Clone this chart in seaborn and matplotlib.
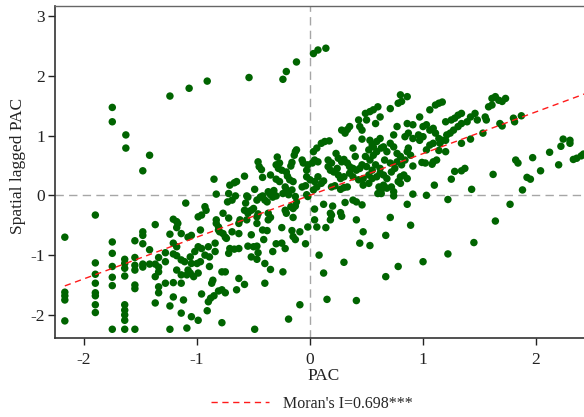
import matplotlib
matplotlib.use("Agg")
import matplotlib.pyplot as plt
import numpy as np
import pandas as pd
import seaborn as sns

# Moran scatter: standardized PAC vs. its spatial lag
moran_i = 0.698
x_ticks = [-2, -1, 0, 1, 2]
y_ticks = [-2, -1, 0, 1, 2, 3]
x_label = "PAC"
y_label = "Spatial lagged PAC"
legend_label = "Moran's I=0.698***"

# (PAC, spatial lag) pairs, grouped by region of the plot
upper_left = [
    (-1.75, 1.47), (-1.75, 1.23), (-1.63, 1.01), (-1.63, 0.79), (-1.48, 0.41),
    (-1.42, 0.67), (-1.24, 1.66), (-1.07, 1.79), (-0.91, 1.91), (-0.54, 1.97),
    (-0.24, 1.94), (-0.21, 2.07), (-0.12, 2.23), (0.03, 2.37), (0.07, 2.43),
    (0.14, 2.46),
]

west = [
    (-2.17, -0.70), (-2.17, -1.62), (-2.17, -1.68), (-2.17, -1.75), (-2.17, -2.10),
    (-1.90, -0.33), (-1.90, -1.13), (-1.90, -1.32), (-1.90, -1.47), (-1.90, -1.63),
    (-1.90, -1.68), (-1.90, -1.83), (-1.90, -1.96),
    (-1.75, -0.78), (-1.75, -0.97), (-1.75, -1.19), (-1.75, -1.37), (-1.75, -1.51),
    (-1.75, -2.24),
    (-1.64, -1.07), (-1.64, -1.14), (-1.64, -1.22), (-1.64, -1.35), (-1.64, -1.83),
    (-1.64, -1.92), (-1.64, -2.00), (-1.64, -2.09), (-1.64, -2.24),
    (-1.55, -0.76), (-1.55, -1.04), (-1.55, -1.17), (-1.55, -1.25), (-1.55, -1.50),
    (-1.55, -1.56), (-1.55, -2.24),
    (-1.48, -0.61), (-1.48, -0.67), (-1.48, -0.81), (-1.48, -1.15), (-1.48, -1.20),
    (-1.42, -0.91), (-1.42, -1.15),
    (-1.37, -0.49), (-1.37, -1.15), (-1.37, -1.36), (-1.37, -1.80),
    (-1.34, -1.04), (-1.34, -1.20), (-1.34, -1.28), (-1.34, -1.53), (-1.34, -1.63),
    (-1.28, -0.96), (-1.28, -1.11), (-1.28, -1.47),
    (-1.24, -0.65), (-1.24, -1.85), (-1.24, -2.24),
    (-1.21, -0.40), (-1.21, -0.80), (-1.21, -0.98), (-1.21, -1.70), (-1.21, -1.46),
    (-1.18, -0.44), (-1.18, -0.54), (-1.18, -0.86), (-1.18, -1.01), (-1.18, -1.25),
    (-1.14, -0.64), (-1.14, -1.08), (-1.14, -1.47), (-1.14, -1.97), (-1.14, -1.33),
    (-1.10, -0.13), (-1.17, -0.47), (-1.12, -1.75),
]

center_west = [
    (-1.08, -0.70), (-1.05, -0.67), (-0.99, -0.36), (-0.96, -0.33), (-0.93, -0.19),
    (-0.92, -0.25), (-0.97, -0.58), (-0.99, -0.86), (-0.96, -0.89), (-1.02, -0.94),
    (-1.06, -1.03), (-1.11, -1.11), (-1.05, -1.14), (-1.00, -1.14), (-0.97, -1.11),
    (-1.08, -1.25), (-1.06, -1.30), (-1.09, -1.33), (-1.03, -1.36), (-0.99, -1.30),
    (-0.93, -1.00), (-0.89, -1.03), (-0.90, -0.86), (-0.89, -1.19), (-0.84, -0.80),
    (-0.84, -0.94), (-0.86, -1.42), (-0.87, -1.47), (-0.78, -1.28), (-0.75, -1.28),
    (-0.96, -1.65), (-0.90, -1.78), (-0.88, -1.72), (-0.85, -1.68), (-0.81, -1.60),
    (-0.91, -1.93), (-0.78, -1.58), (-0.75, -1.63), (-1.05, -2.03), (-0.99, -2.09),
    (-1.09, -2.22), (-0.78, -2.13), (-0.49, -2.24), (-0.19, -2.07), (-0.09, -1.83),
    (-0.65, -1.58), (-0.63, -1.39), (-0.58, -1.49), (-0.40, -1.47), (-0.40, -1.14),
    (-0.35, -1.24), (-0.24, -1.28), (-0.52, -1.03), (-0.47, -1.07), (-0.46, -0.96),
    (-0.55, -0.85), (-0.50, -0.86), (-0.71, -0.89), (-0.67, -0.90), (-0.63, -0.89),
    (-0.72, -0.97), (-0.33, -0.94), (-0.30, -0.81), (-0.25, -0.80), (-0.22, -0.89),
    (-0.42, -0.58), (-0.38, -0.59), (-0.25, -0.54), (-0.16, -0.59), (-0.15, -0.69),
    (-0.13, -0.74), (-0.52, -0.66), (-0.47, -0.47), (-0.56, -0.41), (-0.58, -0.25),
    (-0.55, -0.27), (-0.63, -0.64), (-0.69, -0.61), (-0.77, -0.64), (-0.75, -0.70),
    (-0.74, -0.72), (-0.81, -0.58), (-0.80, -0.61), (-0.83, -0.41), (-0.83, -0.47),
    (-0.81, -0.53), (-0.77, -0.30), (-0.72, -0.38), (-0.73, -0.11), (-0.69, -0.08),
    (-0.72, 0.03), (-0.66, -0.01), (-0.71, 0.17), (-0.67, 0.21), (-0.65, 0.23),
    (-0.85, 0.27), (-0.83, 0.02), (-0.58, 0.32), (-0.56, -0.01), (-0.55, -0.03),
    (-0.49, 0.10), (-0.57, -0.13), (-0.55, -0.30), (-0.52, -0.25), (-0.50, -0.22),
    (-0.47, -0.36), (-0.46, -0.31), (-0.47, -0.08), (-0.44, -0.03), (-0.42, -0.01),
    (-0.40, -0.08), (-0.38, -0.11), (-0.46, 0.56), (-0.45, 0.48), (-0.43, 0.43),
    (-0.42, 0.30), (-0.35, 0.34), (-0.29, 0.64), (-0.30, 0.51), (-0.28, 0.45),
    (-0.25, 0.42), (-0.27, 0.54), (-0.30, 0.27), (-0.27, 0.23), (-0.21, 0.39),
    (-0.20, 0.32), (-0.17, 0.49), (-0.16, 0.55), (-0.14, 0.67), (-0.13, 0.73),
    (-0.12, 0.76), (-0.18, 0.26), (-0.15, 0.23), (-0.22, 0.14), (-0.21, 0.09),
    (-0.24, 0.03), (-0.19, 0.01), (-0.16, 0.09), (-0.32, 0.08), (-0.30, -0.01),
    (-0.33, -0.03), (-0.37, 0.06), (-0.35, 0.01), (-0.13, -0.02), (-0.12, -0.11),
    (-0.17, -0.19), (-0.15, -0.22), (-0.13, -0.18), (-0.15, -0.37), (-0.22, -0.25),
    (-0.21, -0.30), (-0.37, -0.30), (-0.35, -0.37), (-0.37, -0.41), (-0.62, -0.41),
    (-0.63, -0.47), (-0.47, -0.85), (-0.41, -0.74),
]

center_east = [
    (0.15, -1.74), (0.41, -1.76), (0.12, -1.30), (0.08, -1.00), (0.30, -1.12),
    (0.67, -1.36), (0.78, -1.19), (-0.04, -0.81), (0.44, -0.80), (0.53, -0.84),
    (0.47, -0.61), (0.67, -0.67), (0.71, -0.37), (0.41, -0.41), (-0.09, -0.61),
    (-0.02, -0.53), (0.04, -0.41), (0.06, -0.53), (0.14, -0.54), (0.18, -0.41),
    (0.19, -0.33), (0.18, -0.30), (0.20, -0.18), (0.04, -0.23), (0.12, -0.15),
    (0.27, -0.29), (0.28, -0.35), (0.31, -0.12), (0.38, -0.08), (0.41, -0.11),
    (0.46, -0.16), (-0.07, 0.14), (-0.04, 0.16), (-0.03, 0.01), (-0.02, -0.02),
    (0.03, 0.09), (0.06, 0.14), (0.10, 0.20), (0.12, 0.24), (0.19, 0.14),
    (0.22, 0.16), (0.27, 0.10), (0.30, 0.13), (0.33, 0.14), (-0.03, 0.31),
    (0.00, 0.26), (0.04, 0.23), (0.07, 0.31), (-0.03, 0.42), (-0.02, 0.51),
    (0.02, 0.54), (0.04, 0.59), (0.07, 0.56), (-0.07, 0.59), (-0.06, 0.54),
    (0.03, 0.73), (0.06, 0.79), (0.10, 0.87), (0.13, 0.90), (0.17, 0.91),
    (0.16, 0.59), (0.19, 0.54), (0.16, 0.48), (0.18, 0.42), (0.21, 0.39),
    (0.24, 0.45), (0.25, 0.34), (0.27, 0.28), (0.30, 0.31), (0.23, 0.70),
    (0.25, 0.62), (0.28, 0.56), (0.30, 0.60), (0.33, 0.54), (0.35, 0.48),
    (0.38, 0.45), (0.41, 0.42), (0.44, 0.45), (0.46, 0.51), (0.35, 0.37),
    (0.38, 0.31), (0.43, 0.26), (0.47, 0.28), (0.38, 0.79), (0.40, 0.65),
    (0.28, 1.09), (0.33, 1.10), (0.35, 1.15), (0.31, 1.04), (0.43, 1.26),
    (0.44, 1.15), (0.46, 1.09), (0.49, 1.37), (0.53, 1.40), (0.56, 1.43),
    (0.60, 1.48), (0.50, 1.26), (0.58, 1.20), (0.62, 1.31), (0.46, 0.94),
    (0.53, 0.92), (0.55, 0.84), (0.52, 0.76), (0.56, 0.81), (0.59, 0.90),
    (0.62, 0.95), (0.49, 0.65), (0.53, 0.59), (0.56, 0.67), (0.59, 0.73),
    (0.63, 0.79), (0.50, 0.48), (0.55, 0.42), (0.58, 0.51), (0.52, 0.34),
    (0.55, 0.28), (0.59, 0.31), (0.62, 0.37), (0.47, 0.17), (0.52, 0.20),
    (0.61, 0.14), (0.63, 0.09), (0.65, 0.17), (0.68, 0.12), (0.60, 0.03),
    (0.63, 0.03), (0.65, 0.81), (0.68, 0.73), (0.71, 0.87), (0.74, 0.81),
    (0.77, 0.70), (0.66, 0.59), (0.71, 0.54), (0.75, 0.45), (0.77, 0.56),
    (0.62, 0.45), (0.65, 0.34), (0.68, 0.28), (0.72, 0.39), (0.71, 1.45),
    (0.78, 1.54), (0.77, 1.15), (0.74, 1.01), (0.78, 0.23), (0.72, 0.14),
]

east = [
    (1.00, -1.11), (1.22, -0.98), (1.45, -0.79), (1.64, -0.43), (0.89, -0.50),
    (0.86, -0.15), (0.91, 0.02), (1.03, 0.00), (1.22, -0.07), (1.43, 0.10),
    (1.62, 0.35), (1.10, 0.17), (1.25, 0.27), (1.28, 0.40), (1.34, 0.41),
    (1.37, 0.45), (0.80, 0.31), (0.83, 0.34), (0.86, 0.28), (0.80, 0.65),
    (0.84, 0.59), (0.81, 0.51), (0.91, 0.49), (0.86, 0.73), (0.89, 0.67),
    (0.87, 0.79), (0.99, 0.55), (1.02, 0.54), (1.08, 0.52), (1.09, 0.56),
    (1.12, 0.59), (1.03, 0.76), (1.06, 0.84), (1.09, 0.87), (1.14, 0.75),
    (1.20, 0.73), (0.84, 0.98), (0.87, 1.04), (0.91, 0.95), (0.96, 1.01),
    (1.00, 0.98), (0.97, 0.92), (1.00, 1.15), (1.03, 1.18), (1.06, 1.09),
    (1.09, 1.12), (1.11, 1.04), (1.14, 0.95), (1.17, 0.92), (1.21, 1.01),
    (1.24, 1.04), (1.27, 1.09), (1.15, 0.87), (1.20, 0.92), (1.25, 1.26),
    (1.28, 1.29), (1.31, 1.34), (1.34, 1.37), (1.31, 1.15), (1.34, 1.20),
    (1.39, 1.23), (1.42, 1.31), (1.46, 1.37), (1.48, 1.26), (1.34, 0.87),
    (1.42, 0.94), (1.55, 1.31), (1.56, 1.26), (1.53, 1.04), (1.58, 1.48),
    (1.61, 1.51), (1.64, 1.65), (1.67, 1.59), (1.61, 1.62), (1.11, 1.51),
    (1.14, 1.54), (1.17, 1.56), (1.06, 1.43), (0.97, 1.31), (0.80, 1.68),
    (0.81, 1.57), (0.86, 1.65), (0.86, 1.20), (0.91, 1.18), (1.20, 1.23),
    (1.68, 1.20), (0.74, 0.06), (0.74, -0.01), (0.80, 0.20),
]

far_east = [
    (1.70, 1.57), (1.73, 1.62), (1.70, 1.16), (1.80, 1.29), (1.81, 1.23),
    (1.87, 1.33), (1.77, -0.15), (1.88, 0.09), (1.92, 0.30), (1.95, 0.27),
    (1.82, 0.59), (1.84, 0.54), (1.97, 0.63), (2.04, 0.41), (2.12, 0.72),
    (2.20, 0.51), (2.22, 0.82), (2.24, 0.94), (2.30, 0.92), (2.30, 0.87),
    (2.33, 0.60), (2.36, 0.62), (2.40, 0.66), (2.42, 0.69),
]

df = pd.DataFrame(
    upper_left + west + center_west + center_east + east + far_east,
    columns=["pac", "lag"],
)

sns.set_theme(style="white")
plt.rcParams["font.family"] = ["Liberation Serif", "DejaVu Serif"]

fig = plt.figure(figsize=(5.84, 4.17), dpi=100)
W, H = 584, 417
# plot region runs a little past the right edge of the canvas
ax = fig.add_axes([55 / W, 1 - 338 / H, 538 / W, 332 / H])

xlim = (-2.257, 2.504)
ylim = (-2.386, 3.166)
FS = 12.5

# reference axes through the origin
ax.axhline(0, color="#a6a6a6", lw=1.0, ls=(0, (6, 3.8)), zorder=1)
ax.axvline(0, color="#a6a6a6", lw=1.0, ls=(0, (6, 3.8)), zorder=1)

sns.scatterplot(data=df, x="pac", y="lag", ax=ax, color="#006400",
                s=29, linewidth=0, edgecolor="none", zorder=3, legend=False)

# fitted line with slope equal to Moran's I
fit_x = np.linspace(df["pac"].min(), xlim[1], 50)
fit_y = moran_i * fit_x
sns.lineplot(x=fit_x, y=fit_y, ax=ax, color="#ff1a1a", lw=1.0,
             label=legend_label, zorder=4)
ax.lines[-1].set_linestyle((0, (4.5, 3.3)))

ax.set_xlim(*xlim)
ax.set_ylim(*ylim)
ax.set_xticks(x_ticks)
ax.set_yticks(y_ticks)
ax.set_xticklabels([f"{t}" for t in x_ticks])
ax.set_yticklabels([f"{t}" for t in y_ticks])

ax.tick_params(axis="x", direction="out", length=5, width=1.0, pad=5,
               labelsize=FS, colors="#222222", bottom=True)
ax.tick_params(axis="y", direction="out", length=5, width=1.0, pad=2,
               labelsize=FS, colors="#222222", left=True)

for side in ["left", "bottom"]:
    ax.spines[side].set_color("#333333")
    ax.spines[side].set_linewidth(1.2)
ax.spines["top"].set_color("#666666")
ax.spines["top"].set_linewidth(1.0)
ax.spines["right"].set_visible(False)

ax.set_xlabel(x_label, fontsize=FS, color="#222222", va="center")
ax.xaxis.set_label_coords(0.5, -(376 - 338) / 332)
ax.set_ylabel(y_label, fontsize=FS, color="#222222", va="center")
ax.yaxis.set_label_coords(-(55 - 18) / 538, (338 - 166) / 332)

handles, labels = ax.get_legend_handles_labels()
ax.get_legend().remove()
fig.legend(handles, labels, loc="center", bbox_to_anchor=(312 / W, 1 - 404 / H),
           frameon=False, fontsize=11.5, handlelength=3.6, handletextpad=0.9)

fig.savefig("out.png", dpi=100)
